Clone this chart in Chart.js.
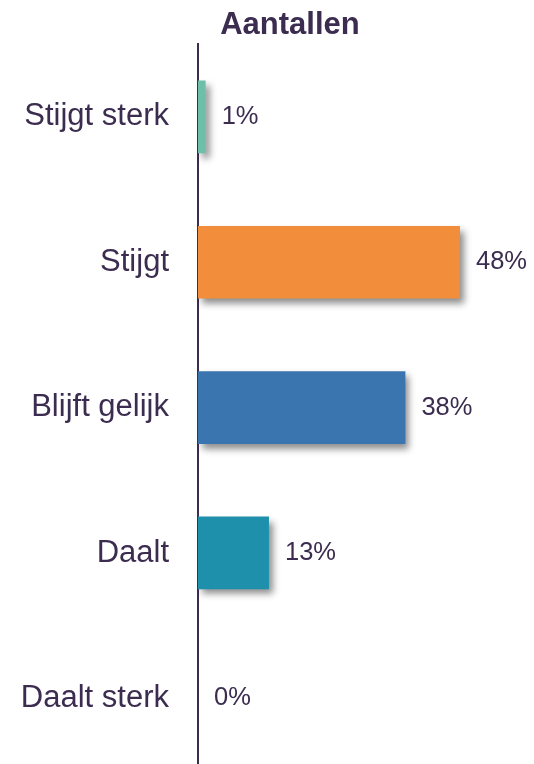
<!DOCTYPE html>
<html>
<head>
<meta charset="utf-8">
<script src="https://cdn.jsdelivr.net/npm/chart.js@4.4.1/dist/chart.umd.min.js"></script>
<style>
html,body{margin:0;padding:0;background:#fff;overflow:hidden;}
#wrap{width:534px;height:771px;position:relative;}
</style>
</head>
<body>
<div id="wrap"><canvas id="c"></canvas></div>
<script>
const categories = ["Stijgt sterk", "Stijgt", "Blijft gelijk", "Daalt", "Daalt sterk"];
const values = [1.4, 48, 38, 13, 0];
const valueLabels = ["1%", "48%", "38%", "13%", "0%"];
const barColors = ["#6dbfaa", "#f18d3b", "#3a75af", "#1f90ac", "#6dbfaa"];
const titleText = "Aantallen";
const textColor = "#3b2c50";

const shadowPlugin = {
  id: "barShadow",
  beforeDatasetDraw(chart) {
    const ctx = chart.ctx;
    ctx.save();
    ctx.shadowColor = "rgba(0,0,0,0.45)";
    ctx.shadowBlur = 7;
    ctx.shadowOffsetX = 4;
    ctx.shadowOffsetY = 5;
  },
  afterDatasetDraw(chart) {
    chart.ctx.restore();
  }
};

const valueLabelPlugin = {
  id: "valueLabels",
  afterDatasetsDraw(chart) {
    const ctx = chart.ctx;
    const meta = chart.getDatasetMeta(0);
    ctx.save();
    ctx.font = "25.5px 'Liberation Sans', Arial, sans-serif";
    ctx.fillStyle = textColor;
    ctx.textAlign = "left";
    ctx.textBaseline = "middle";
    meta.data.forEach((bar, i) => {
      ctx.fillText(valueLabels[i], bar.x + 16, bar.y);
    });
    ctx.restore();
  }
};

new Chart(document.getElementById("c"), {
  type: "bar",
  data: {
    labels: categories,
    datasets: [{
      data: values,
      backgroundColor: barColors,
      borderWidth: 0,
      categoryPercentage: 1,
      barPercentage: 0.5
    }]
  },
  options: {
    indexAxis: "y",
    responsive: true,
    maintainAspectRatio: false,
    animation: false,
    layout: { padding: { left: 0, right: -46, top: 0, bottom: 0 } },
    plugins: {
      legend: { display: false },
      tooltip: { enabled: false },
      title: {
        display: true,
        text: titleText,
        color: textColor,
        font: { family: "'Liberation Sans', Arial, sans-serif", size: 31, weight: "bold", lineHeight: 1.2 },
        padding: { top: 7, bottom: 0 }
      }
    },
    scales: {
      x: {
        display: false,
        min: 0,
        max: 61.56
      },
      y: {
        afterFit(scale) {
          scale.width = 198;
          scale.paddingTop = 0;
          scale.paddingBottom = 0;
        },
        grid: { display: false },
        border: { display: true, color: textColor, width: 2 },
        ticks: {
          color: textColor,
          padding: 21,
          font: { family: "'Liberation Sans', Arial, sans-serif", size: 31 }
        }
      }
    }
  },
  plugins: [shadowPlugin, valueLabelPlugin]
});
</script>
</body>
</html>
